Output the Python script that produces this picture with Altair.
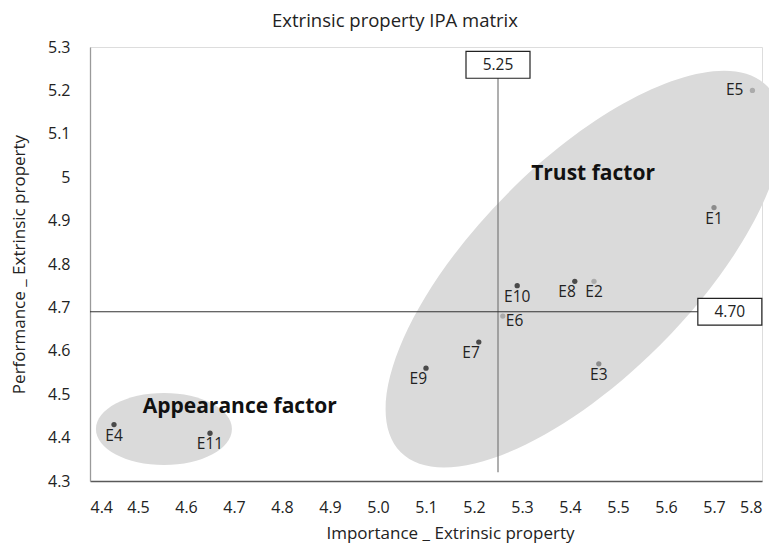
import altair as alt
import pandas as pd

# ---- data ----
names = ["E1", "E2", "E3", "E4", "E5", "E6", "E7", "E8", "E9", "E10", "E11"]
importance = [5.70, 5.45, 5.46, 4.45, 5.78, 5.26, 5.21, 5.41, 5.10, 5.29, 4.65]
performance = [4.93, 4.76, 4.57, 4.43, 5.20, 4.68, 4.62, 4.76, 4.56, 4.75, 4.41]
tone = ["mid", "light", "mid", "dark", "light", "light", "dark", "dark", "dark", "dark", "dark"]
label_pos = ["below", "below", "below", "below", "left", "right",
             "belowleft", "belowleft", "belowleft", "below", "below"]

mean_importance = [5.25]
mean_performance = [4.69]
mean_labels = ["5.25", "4.70"]
vline_span = [4.32, 5.259]      # performance range covered by the importance line
hline_span = [4.40, 5.733]      # importance range covered by the performance line

cluster_names = ["Trust factor", "Appearance factor"]
cluster_x = [5.429, 4.554]
cluster_y = [4.788, 4.420]
cluster_label_x = [5.448, 4.712]
cluster_label_y = [5.007, 4.470]

x_ticks = [4.4, 4.5, 4.6, 4.7, 4.8, 4.9, 5.0, 5.1, 5.2, 5.3, 5.4, 5.5, 5.6, 5.7, 5.8]
y_ticks = [4.3, 4.4, 4.5, 4.6, 4.7, 4.8, 4.9, 5.0, 5.1, 5.2, 5.3]

FONT = "Open Sans"

pts = pd.DataFrame({"name": names, "imp": importance, "perf": performance,
                    "tone": tone, "pos": label_pos})

xs = alt.Scale(domain=[4.4, 5.8], nice=False, zero=False)
ys = alt.Scale(domain=[4.3, 5.3], nice=False, zero=False)

X = alt.X("imp:Q", scale=xs, axis=alt.Axis(
    values=x_ticks, format=".1f", ticks=False, grid=False,
    domainColor="#595959", domainWidth=1.3, labelFontSize=16, labelFont=FONT,
    labelColor="#222222", labelPadding=18,
    title="Importance _ Extrinsic property", titleFont=FONT, titleFontSize=17,
    titleFontWeight="normal", titleColor="#222222",
    titleX=360, titleY=52, titleBaseline="middle", titleAlign="center"))
Y = alt.Y("perf:Q", scale=ys, axis=alt.Axis(
    values=y_ticks, format=".1~f", ticks=False, grid=False,
    domainColor="#9a9a9a", domainWidth=1.3, labelFontSize=16, labelFont=FONT,
    labelColor="#222222", labelPadding=20,
    title="Performance _ Extrinsic property", titleFont=FONT, titleFontSize=17,
    titleFontWeight="normal", titleColor="#222222",
    titleX=-71, titleY=217, titleAngle=-90, titleBaseline="middle", titleAlign="center"))

# ---- cluster ellipses ----
k = 0.5523
def ellipse_path(r):
    kb = k * r
    return (f"M -1 0 C -1 {-kb:.4f} {-k} {-r:.4f} 0 {-r:.4f} "
            f"C {k} {-r:.4f} 1 {-kb:.4f} 1 0 "
            f"C 1 {kb:.4f} {k} {r:.4f} 0 {r:.4f} "
            f"C {-k} {r:.4f} -1 {kb:.4f} -1 0 Z")

trust_df = pd.DataFrame({"imp": [cluster_x[0]], "perf": [cluster_y[0]]})
app_df = pd.DataFrame({"imp": [cluster_x[1]], "perf": [cluster_y[1]]})

trust_ell = alt.Chart(trust_df).mark_point(
    shape=ellipse_path(0.415), filled=True, color="#dadada", opacity=1,
    size=268324, angle=315, strokeWidth=0).encode(x=X, y=Y)
app_ell = alt.Chart(app_df).mark_point(
    shape=ellipse_path(0.53), filled=True, color="#dadada", opacity=1,
    size=18496, strokeWidth=0).encode(x=X, y=Y)

# ---- mean lines ----
vdf = pd.DataFrame({"imp": mean_importance, "perf": [vline_span[0]], "perf2": [vline_span[1]]})
hdf = pd.DataFrame({"perf": mean_performance, "imp": [hline_span[0]], "imp2": [hline_span[1]]})
vline = alt.Chart(vdf).mark_rule(color="#7a7a7a", strokeWidth=1.2).encode(
    x=X, y=Y, y2="perf2:Q")
hline = alt.Chart(hdf).mark_rule(color="#333333", strokeWidth=1.2).encode(
    x=X, x2="imp2:Q", y=Y)

box_df = pd.DataFrame({"imp": [mean_importance[0], hline_span[1]],
                       "perf": [vline_span[1], mean_performance[0]],
                       "txt": mean_labels})
boxes = alt.Chart(box_df).mark_point(
    shape="M -1 -0.42 L 1 -0.42 L 1 0.42 L -1 0.42 Z", filled=True,
    fill="white", stroke="#222222", strokeWidth=1.2, opacity=1, size=4096).encode(x=X, y=Y)
box_txt = alt.Chart(box_df).mark_text(
    font=FONT, fontSize=15.5, color="#222222", baseline="middle", align="center").encode(
    x=X, y=Y, text="txt:N")

# ---- points ----
points = alt.Chart(pts).mark_circle(size=28, opacity=1).encode(
    x=X, y=Y,
    color=alt.Color("tone:N", scale=alt.Scale(domain=["dark", "mid", "light"],
                                              range=["#4a4a4a", "#8c8c8c", "#ababab"]),
                    legend=None))

def labels(pos, **kw):
    return alt.Chart(pts[pts["pos"] == pos]).mark_text(
        font=FONT, fontSize=15.5, color="#222222", **kw).encode(x=X, y=Y, text="name:N")

lab_below = labels("below", align="center", baseline="top", dy=4)
lab_left = labels("left", align="right", baseline="middle", dx=-9)
lab_right = labels("right", align="left", baseline="middle", dx=3, dy=5)
lab_bl = labels("belowleft", align="right", baseline="top", dx=1, dy=4)

cl_df = pd.DataFrame({"imp": cluster_label_x, "perf": cluster_label_y, "txt": cluster_names})
cl_txt = alt.Chart(cl_df).mark_text(
    font=FONT, fontSize=21, fontWeight="bold", color="#111111",
    align="center", baseline="middle").encode(x=X, y=Y, text="txt:N")

chart = alt.layer(
    trust_ell, app_ell, vline, hline, boxes, box_txt, points,
    lab_below, lab_left, lab_right, lab_bl, cl_txt
).properties(
    width=672, height=434,
    autosize="none",
    padding={"left": 82, "top": 39, "right": 7, "bottom": 63},
    title=alt.TitleParams("Extrinsic property IPA matrix", font=FONT, fontSize=18.5,
                          fontWeight="normal", color="#222222", anchor="middle",
                          dx=-31, offset=9),
).configure_view(stroke=None).configure(background="white")

chart.save("out.html", embed_options={"renderer": "svg", "actions": False})
